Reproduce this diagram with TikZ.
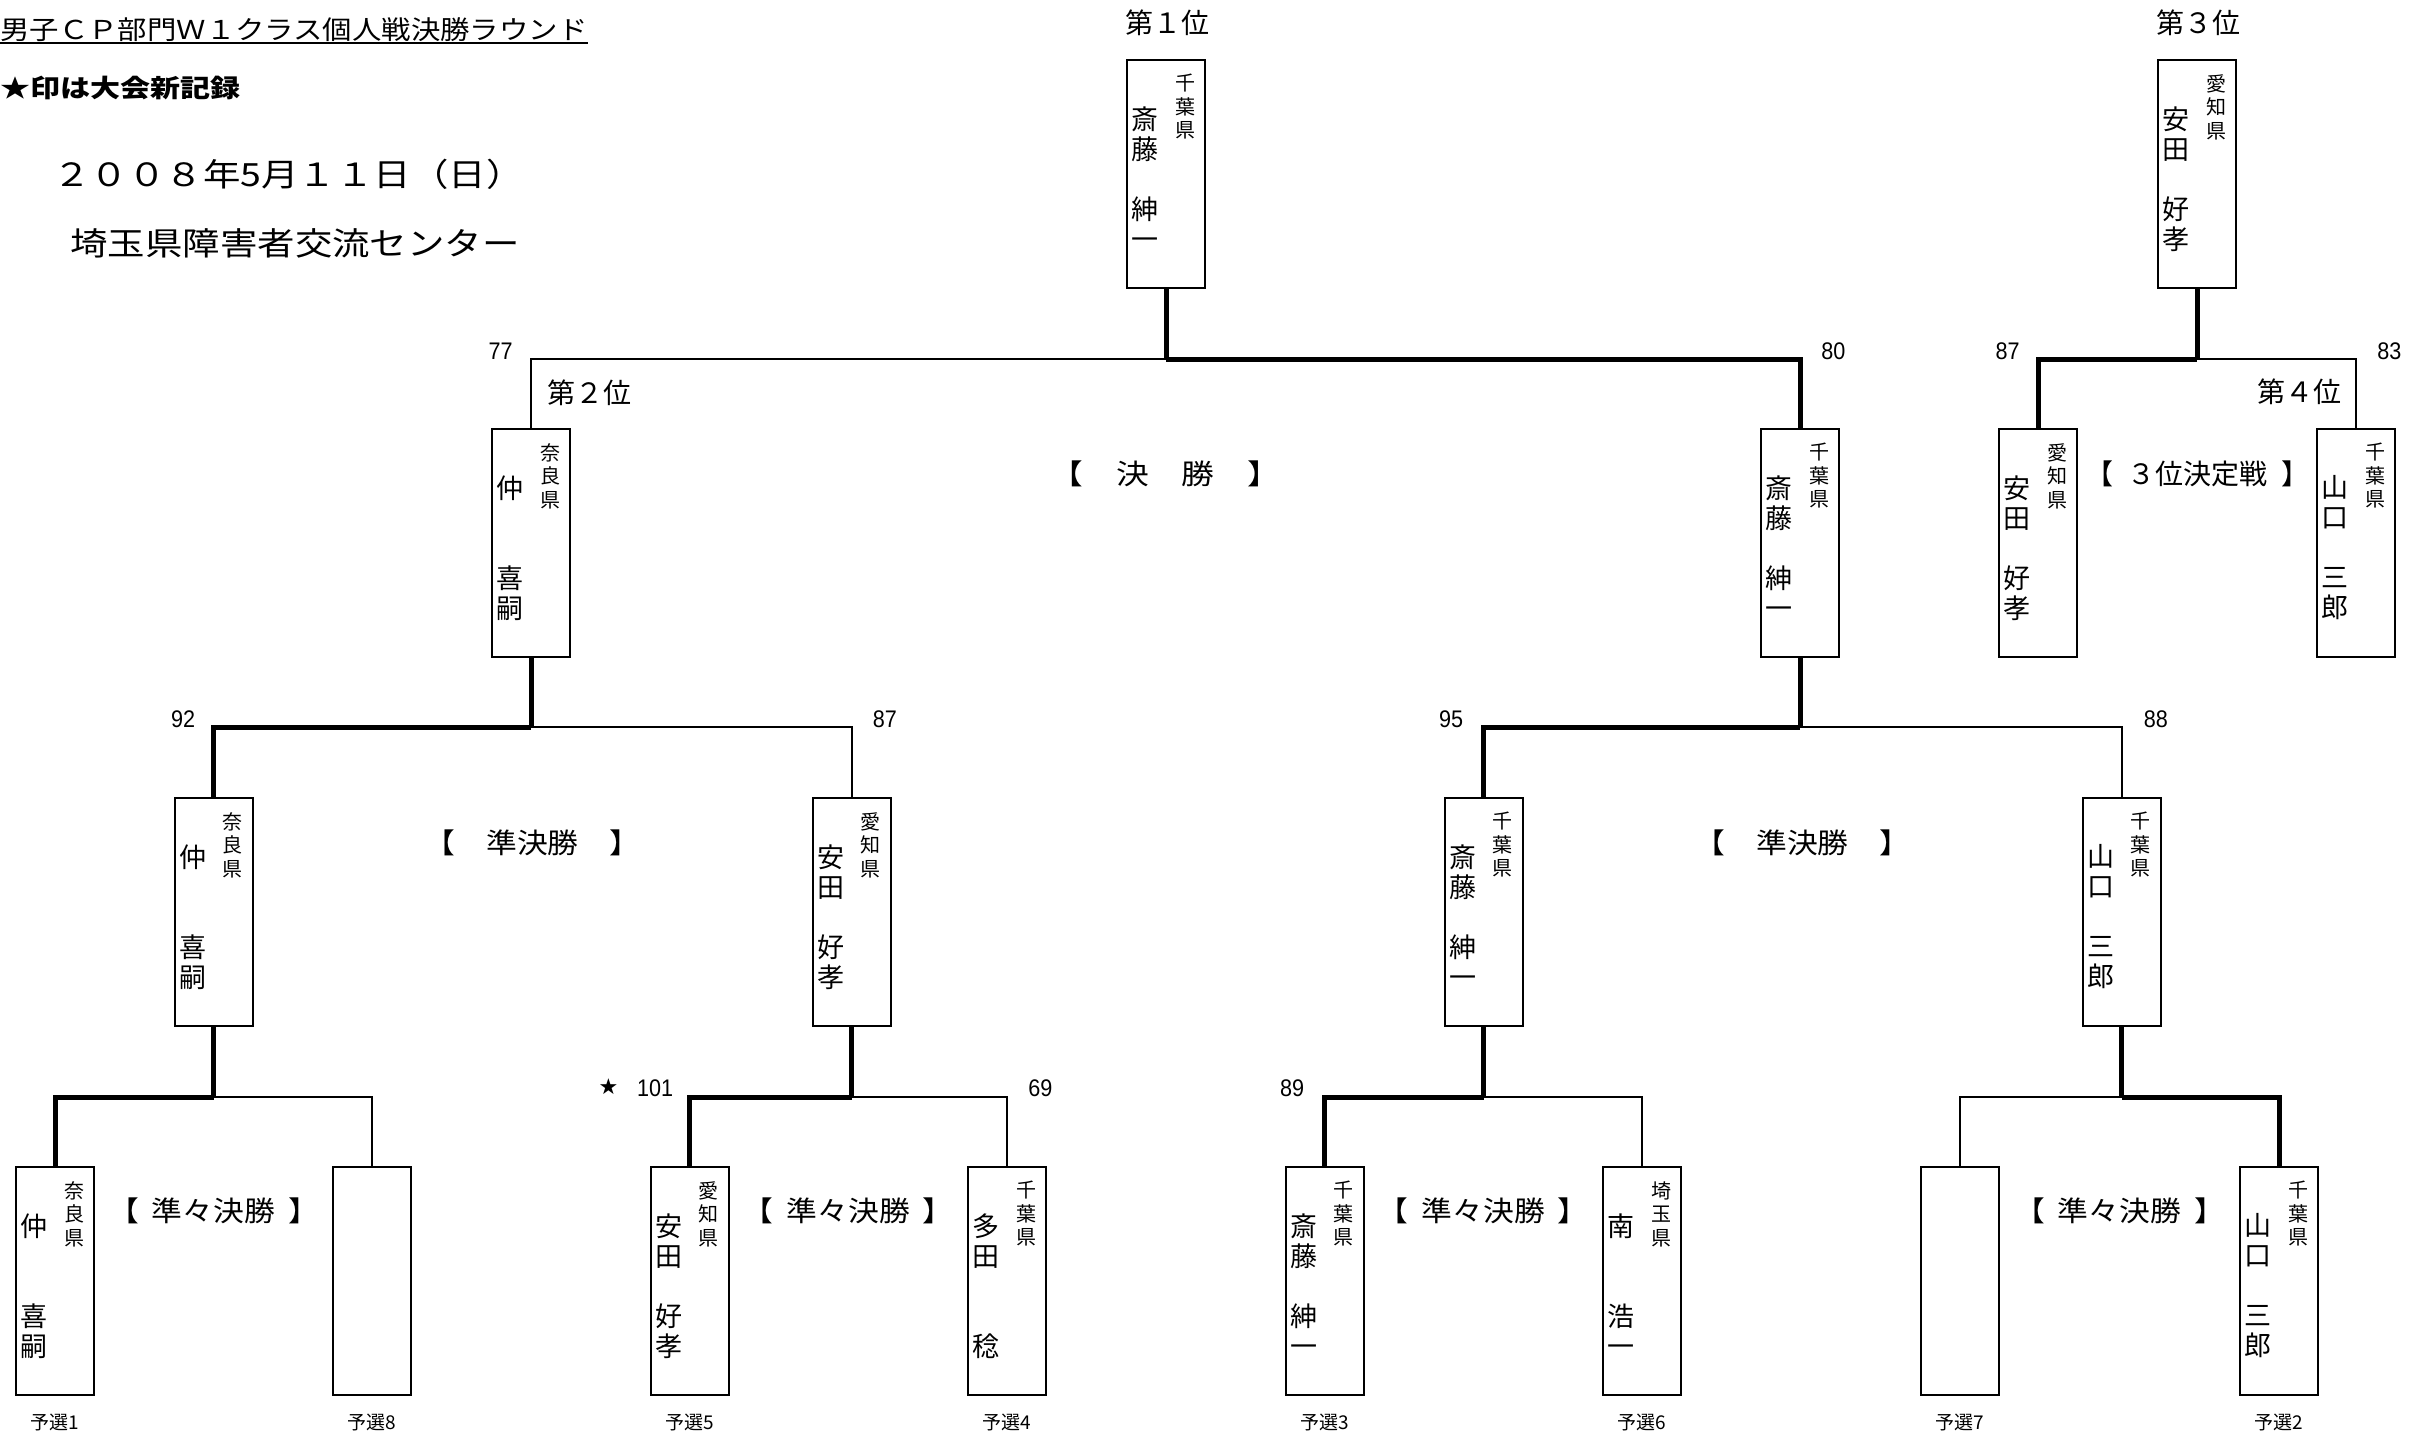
\documentclass[tikz,border=0pt]{standalone}
\usepackage{fontspec}
\usetikzlibrary{calc}
\newfontfamily\jp{Noto Sans CJK JP}
\newfontfamily\jpw[FakeStretch=1.17]{Noto Sans CJK JP}
\newfontfamily\jpt[FakeStretch=1.13]{Noto Sans CJK JP}
\newfontfamily\jpb[FakeStretch=1.2]{Noto Sans CJK JP}
\newfontfamily\jpl[FakeStretch=1.1]{Noto Sans CJK JP}
\newfontfamily\numf[FakeStretch=0.9]{Liberation Sans}
\newfontfamily\symf{DejaVu Sans}
\tikzset{
  box/.style={draw, line width=1pt, minimum width=39pt, minimum height=114pt, inner sep=0pt, outer sep=0pt},
  nm/.style={font=\jp\fontsize{13.5}{15}\selectfont, align=center, inner sep=0pt, anchor=north},
  pf/.style={font=\jp\fontsize{10}{11.75}\selectfont, align=center, inner sep=0pt, anchor=north},
  win/.style={line width=2.5pt},
  lose/.style={line width=1pt},
  score/.style={font=\numf\fontsize{12}{14}\selectfont, inner sep=0pt},
  rank/.style={font=\jp\fontsize{14}{16}\selectfont, inner sep=0pt},
  rndA/.style={font=\jpl\fontsize{14}{16}\selectfont, inner sep=0pt},
  qual/.style={font=\jp\fontsize{9.5}{11}\selectfont, inner sep=0pt},
}
\newcommand{\plbox}[3]{\node[box] (#1) at (#2,#3+115) {};}
\newcommand{\plname}[5]{%
  \plbox{#1}{#2}{#3}
  \node[nm] (#1n) at (#2-21,#3+47) {#4};
  \node[pf] (#1p) at (#2+19,#3+15) {#5};}
\begin{document}
\begin{tikzpicture}[x=0.5pt,y=-0.5pt]
\useasboundingbox (0,0) rectangle (2433,1437);
% header
\node[font=\jpt\fontsize{13}{15}\selectfont, anchor=west, inner sep=0pt] (title) at (0,30) {男子ＣＰ部門Ｗ１クラス個人戦決勝ラウンド};
\coordinate (ul) at (0,43);
\draw[line width=1.3pt] (title.west |- ul) -- (title.east |- ul);
\node[font=\jpb\bfseries\fontsize{12.5}{14}\selectfont, anchor=west, inner sep=0pt] (note) at (0,88) {★印は大会新記録};
\node[font=\jpw\fontsize{16}{18}\selectfont, anchor=west, inner sep=0pt] (date) at (53,174) {２００８年5月１１日（日）};
\node[font=\jpw\fontsize{16}{18}\selectfont, anchor=west, inner sep=0pt] (venue) at (70,243) {埼玉県障害者交流センター};

% rows
\coordinate (rowF) at (0,359);
\coordinate (rowS) at (0,727);
\coordinate (rowQ) at (0,1097);
\coordinate (rowL) at (0,1422);

% boxes
\plname{champ}{1166}{59}{斎\\藤\\　\\紳\\一}{千\\葉\\県}
\plname{third}{2197}{59}{安\\田\\　\\好\\孝}{愛\\知\\県}
\plname{f1}{531}{428}{仲\\　\\　\\喜\\嗣}{奈\\良\\県}
\plname{f2}{1800}{428}{斎\\藤\\　\\紳\\一}{千\\葉\\県}
\plname{t1}{2038}{428}{安\\田\\　\\好\\孝}{愛\\知\\県}
\plname{t2}{2356}{428}{山\\口\\　\\三\\郎}{千\\葉\\県}
\plname{sf1}{213.5}{797}{仲\\　\\　\\喜\\嗣}{奈\\良\\県}
\plname{sf2}{851.5}{797}{安\\田\\　\\好\\孝}{愛\\知\\県}
\plname{sf3}{1483.5}{797}{斎\\藤\\　\\紳\\一}{千\\葉\\県}
\plname{sf4}{2121.5}{797}{山\\口\\　\\三\\郎}{千\\葉\\県}
\plname{q1}{55}{1166}{仲\\　\\　\\喜\\嗣}{奈\\良\\県}
\plbox{q8}{372}{1166}
\plname{q5}{689.5}{1166}{安\\田\\　\\好\\孝}{愛\\知\\県}
\plname{q4}{1007}{1166}{多\\田\\　\\　\\稔}{千\\葉\\県}
\plname{q3}{1324.5}{1166}{斎\\藤\\　\\紳\\一}{千\\葉\\県}
\plname{q6}{1642}{1166}{南\\　\\　\\浩\\一}{埼\\玉\\県}
\plbox{q7}{1960}{1166}
\plname{q2}{2279}{1166}{山\\口\\　\\三\\郎}{千\\葉\\県}

% junctions
\coordinate (jF) at (champ.south |- rowF);
\coordinate (jT) at (third.south |- rowF);
\coordinate (jS1) at (f1.south |- rowS);
\coordinate (jS2) at (f2.south |- rowS);
\coordinate (jQ1) at (sf1.south |- rowQ);
\coordinate (jQ2) at (sf2.south |- rowQ);
\coordinate (jQ3) at (sf3.south |- rowQ);
\coordinate (jQ4) at (sf4.south |- rowQ);

% losing lines
\draw[lose] (f1.north) |- (jF);
\draw[lose] (t2.north) |- (jT);
\draw[lose] (sf2.north) |- (jS1);
\draw[lose] (sf4.north) |- (jS2);
\draw[lose] (q8.north) |- (jQ1);
\draw[lose] (q4.north) |- (jQ2);
\draw[lose] (q6.north) |- (jQ3);
\draw[lose] (q7.north) |- (jQ4);
% winning lines
\draw[win] (champ.south) -- (jF);
\draw[win] (f2.north) |- (jF);
\draw[win] (third.south) -- (jT);
\draw[win] (t1.north) |- (jT);
\draw[win] (f1.south) -- (jS1);
\draw[win] (sf1.north) |- (jS1);
\draw[win] (f2.south) -- (jS2);
\draw[win] (sf3.north) |- (jS2);
\draw[win] (sf1.south) -- (jQ1);
\draw[win] (q1.north) |- (jQ1);
\draw[win] (sf2.south) -- (jQ2);
\draw[win] (q5.north) |- (jQ2);
\draw[win] (sf3.south) -- (jQ3);
\draw[win] (q3.north) |- (jQ3);
\draw[win] (sf4.south) -- (jQ4);
\draw[win] (q2.north) |- (jQ4);

% scores
\node[score, anchor=east] (s77) at ($(f1.north |- rowF)+(-18,-8)$) {77};
\node[score, anchor=west] (s80) at ($(f2.north |- rowF)+(21,-8)$) {80};
\node[score, anchor=east] (s87a) at ($(t1.north |- rowF)+(-18,-8)$) {87};
\node[score, anchor=west] (s83) at ($(t2.north |- rowF)+(21,-8)$) {83};
\node[score, anchor=east] (s92) at ($(sf1.north |- rowS)+(-18,-8)$) {92};
\node[score, anchor=west] (s87b) at ($(sf2.north |- rowS)+(21,-8)$) {87};
\node[score, anchor=east] (s95) at ($(sf3.north |- rowS)+(-20,-8)$) {95};
\node[score, anchor=west] (s88) at ($(sf4.north |- rowS)+(22,-8)$) {88};
\node[score, anchor=east] (s101) at ($(q5.north |- rowQ)+(-16,-9)$) {101};
\node[font=\symf\fontsize{11}{12}\selectfont, inner sep=0pt] (star) at ($(q5.north |- rowQ)+(-81,-10)$) {★};
\node[score, anchor=west] (s69) at ($(q4.north |- rowQ)+(21,-9)$) {69};
\node[score, anchor=east] (s89) at ($(q3.north |- rowQ)+(-20,-9)$) {89};

% ranks
\node[rank] (r1) at (1167,23) {第１位};
\node[rank] (r3) at (2198,23) {第３位};
\node[rank, anchor=west] (r2) at ($(f1.north |- rowF)+(16,34)$) {第２位};
\node[rank, anchor=east] (r4) at ($(t2.north |- rowF)+(-14,33)$) {第４位};

% round labels
\node[font=\jpw\fontsize{14}{16}\selectfont, inner sep=0pt] (lf) at ($(f1.north)!0.5!(f2.north)+(0,45)$) {【　決　勝　】};
\node[rank] (l3) at ($(t1.north)!0.5!(t2.north)+(0,45)$) {【\hspace{7pt}３位決定戦\hspace{7pt}】};
\node[rndA] (ls1) at ($(sf1.north)!0.5!(sf2.north)+(0,45)$) {【　準決勝　】};
\node[rndA] (ls2) at ($(sf3.north)!0.5!(sf4.north)+(0,45)$) {【　準決勝　】};
\node[rndA] (lq1) at ($(q1.north)!0.5!(q8.north)+(0,44)$) {【\hspace{6.5pt}準々決勝\hspace{6.5pt}】};
\node[rndA] (lq2) at ($(q5.north)!0.5!(q4.north)+(0,44)$) {【\hspace{6.5pt}準々決勝\hspace{6.5pt}】};
\node[rndA] (lq3) at ($(q3.north)!0.5!(q6.north)+(0,44)$) {【\hspace{6.5pt}準々決勝\hspace{6.5pt}】};
\node[rndA] (lq4) at ($(q7.north)!0.5!(q2.north)+(0,44)$) {【\hspace{6.5pt}準々決勝\hspace{6.5pt}】};

% qualifier labels
\node[qual] (y1) at (q1.south |- rowL) {予選1};
\node[qual] (y8) at (q8.south |- rowL) {予選8};
\node[qual] (y5) at (q5.south |- rowL) {予選5};
\node[qual] (y4) at (q4.south |- rowL) {予選4};
\node[qual] (y3) at (q3.south |- rowL) {予選3};
\node[qual] (y6) at (q6.south |- rowL) {予選6};
\node[qual] (y7) at (q7.south |- rowL) {予選7};
\node[qual] (y2) at (q2.south |- rowL) {予選2};
\end{tikzpicture}
\end{document}
